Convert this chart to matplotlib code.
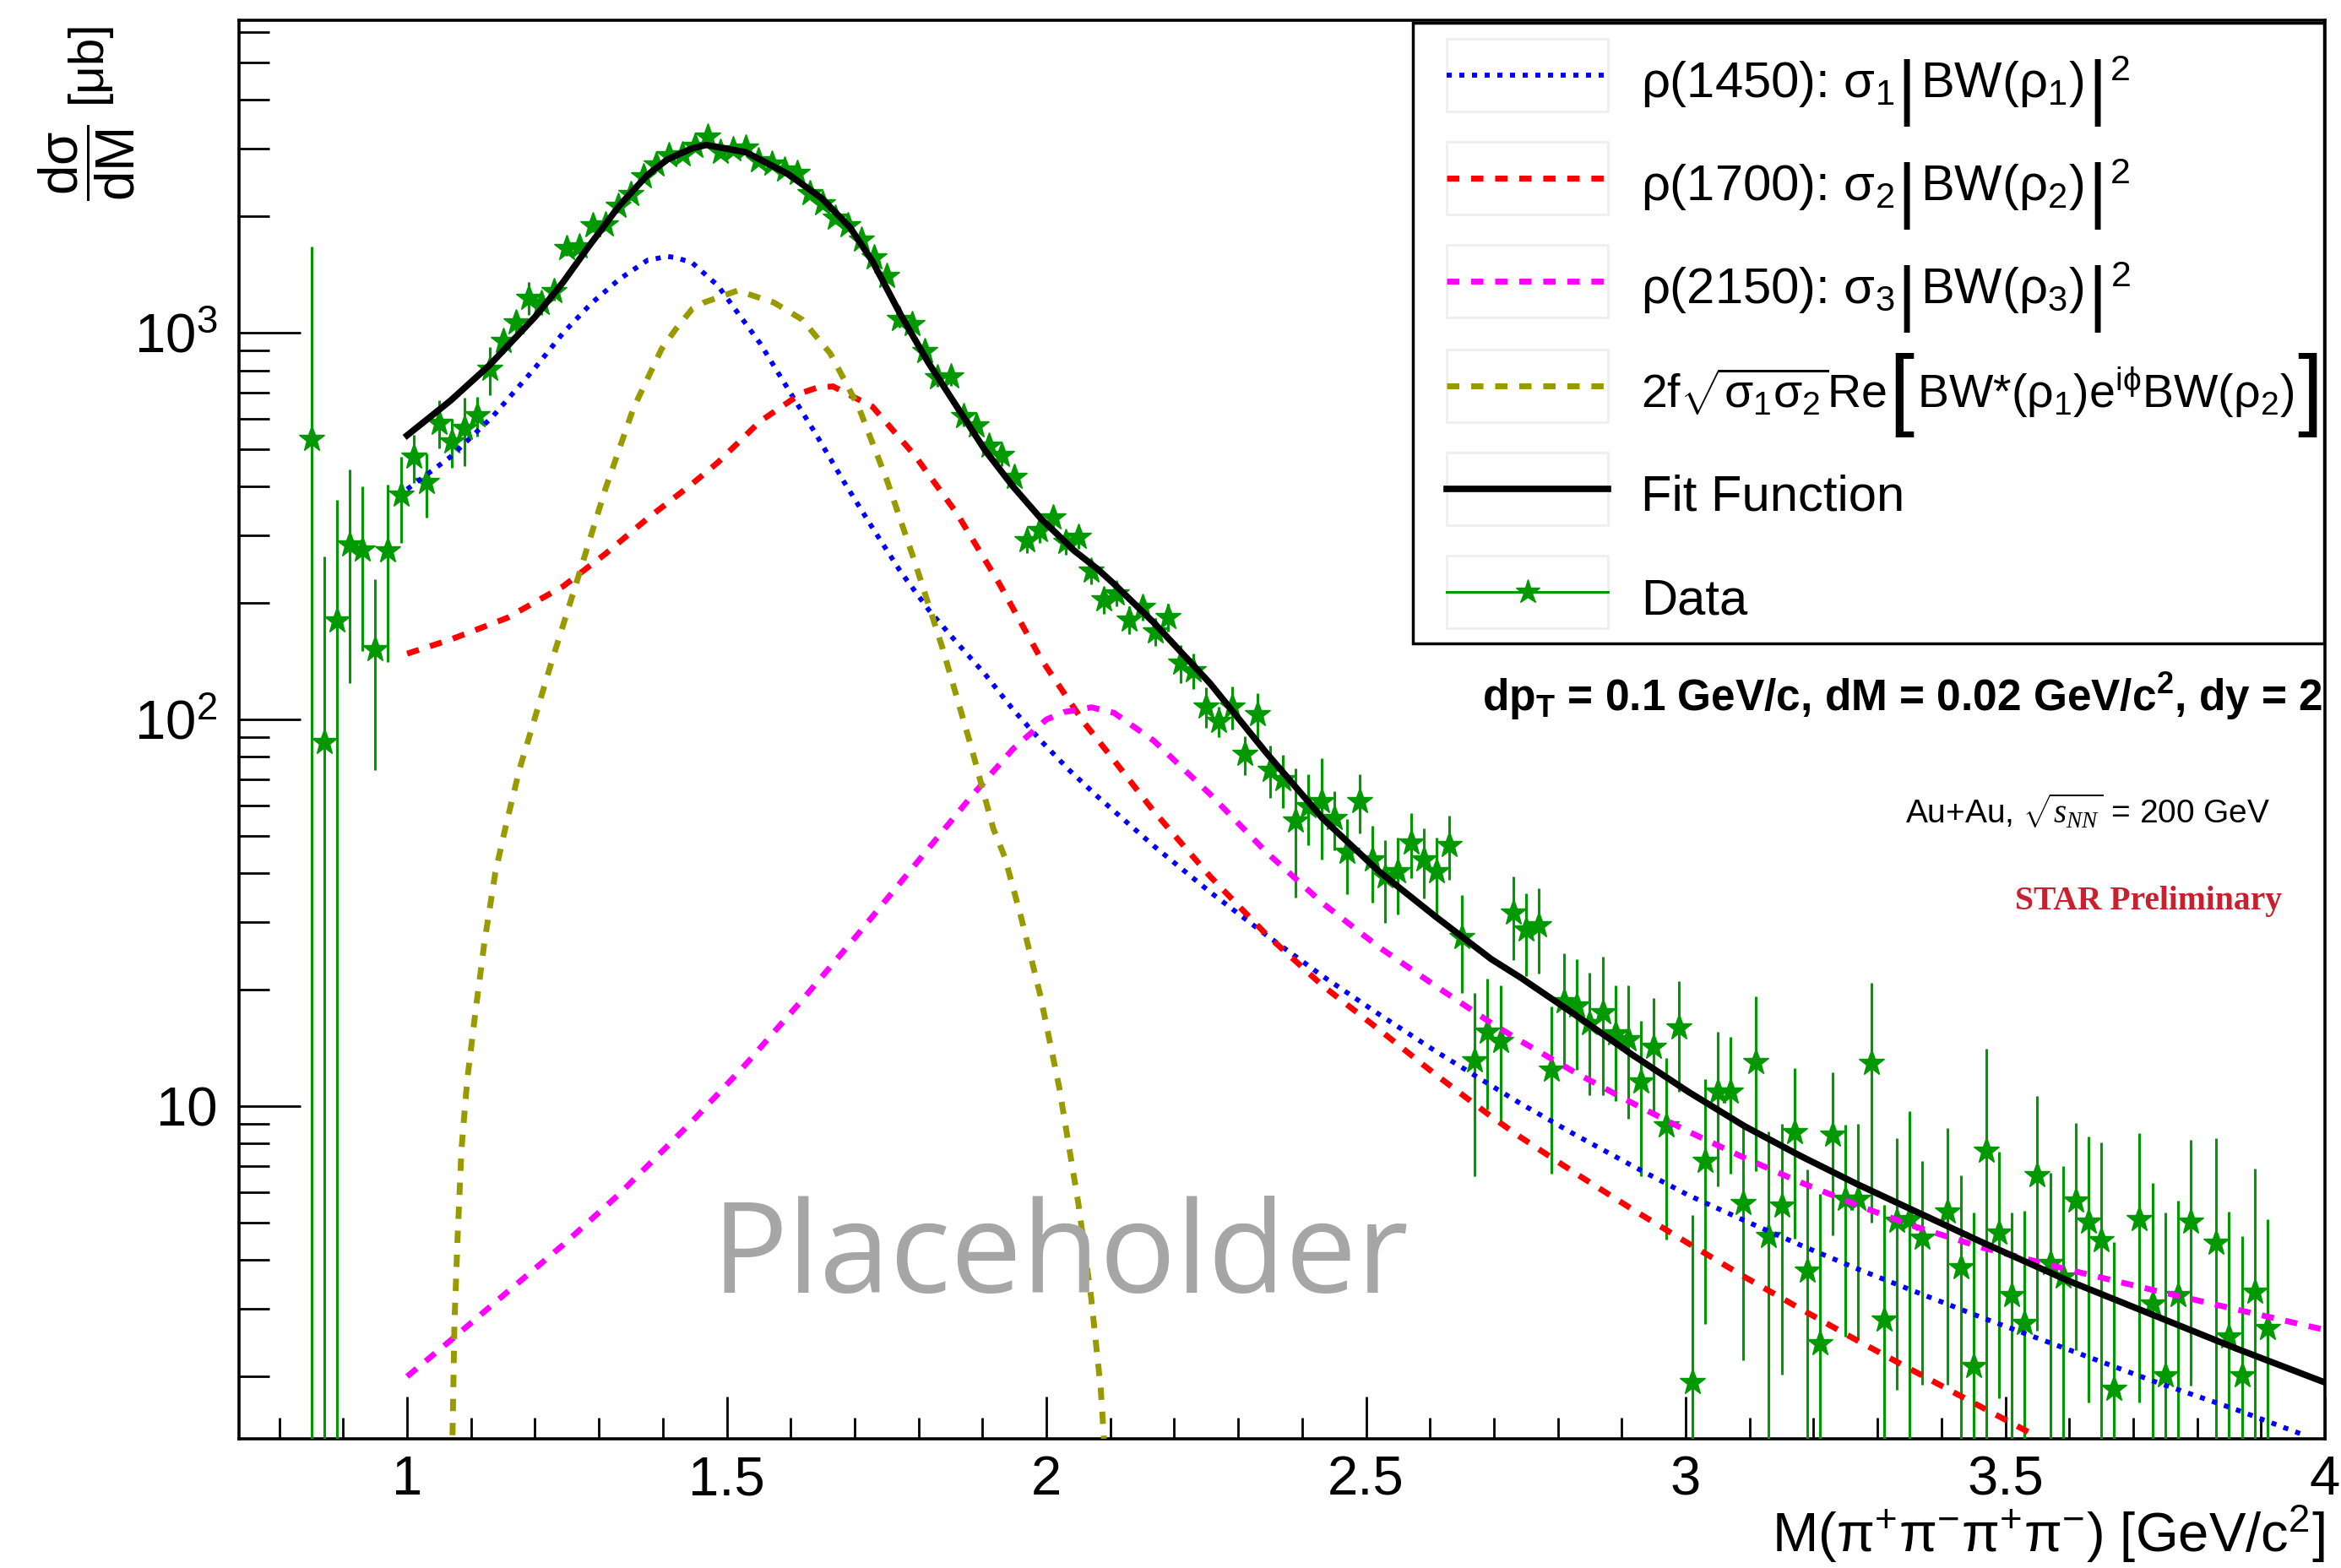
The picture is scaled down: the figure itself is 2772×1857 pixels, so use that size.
import numpy as np
import matplotlib
matplotlib.use("Agg")
import matplotlib.pyplot as plt
from matplotlib.lines import Line2D
from matplotlib.patches import Rectangle
from matplotlib.ticker import MultipleLocator, LogLocator, FuncFormatter, NullFormatter

W, H = 2772, 1857

plt.rcParams['font.family'] = ['Liberation Sans', 'DejaVu Sans']
plt.rcParams['mathtext.fontset'] = 'custom'
plt.rcParams['mathtext.rm'] = 'Liberation Sans'
plt.rcParams['mathtext.it'] = 'Liberation Serif:italic'
plt.rcParams['mathtext.bf'] = 'Liberation Sans:bold'
plt.rcParams['mathtext.sf'] = 'Liberation Sans'
plt.rcParams['mathtext.default'] = 'regular'
plt.rcParams['lines.scale_dashes'] = False

# --- data points (bin centres, dsigma/dM, stat. error) ---
mass = [0.85, 0.87, 0.89, 0.91, 0.93, 0.95, 0.97, 0.99, 1.01, 1.03,
        1.05, 1.07, 1.09, 1.11, 1.13, 1.15, 1.17, 1.19, 1.21, 1.23,
        1.25, 1.27, 1.29, 1.31, 1.33, 1.35, 1.37, 1.39, 1.41, 1.43,
        1.45, 1.47, 1.49, 1.51, 1.53, 1.55, 1.57, 1.59, 1.61, 1.63,
        1.65, 1.67, 1.69, 1.71, 1.73, 1.75, 1.77, 1.79, 1.81, 1.83,
        1.85, 1.87, 1.89, 1.91, 1.93, 1.95, 1.97, 1.99, 2.01, 2.03,
        2.05, 2.07, 2.09, 2.11, 2.13, 2.15, 2.17, 2.19, 2.21, 2.23,
        2.25, 2.27, 2.29, 2.31, 2.33, 2.35, 2.37, 2.39, 2.41, 2.43,
        2.45, 2.47, 2.49, 2.51, 2.53, 2.55, 2.57, 2.59, 2.61, 2.63,
        2.65, 2.67, 2.69, 2.71, 2.73, 2.75, 2.77, 2.79, 2.81, 2.83,
        2.85, 2.87, 2.89, 2.91, 2.93, 2.95, 2.97, 2.99, 3.01, 3.03,
        3.05, 3.07, 3.09, 3.11, 3.13, 3.15, 3.17, 3.19, 3.21, 3.23,
        3.25, 3.27, 3.29, 3.31, 3.33, 3.35, 3.37, 3.41, 3.43, 3.45,
        3.47, 3.49, 3.51, 3.53, 3.55, 3.57, 3.59, 3.61, 3.63, 3.65,
        3.67, 3.71, 3.73, 3.75, 3.77, 3.79, 3.83, 3.85, 3.87, 3.89,
        3.91]
dsigma = [530, 87.3, 180, 284, 275, 152, 273, 382, 477, 410,
          585, 523, 566, 611, 805, 953, 1065, 1230, 1191, 1282,
          1656, 1667, 1896, 1909, 2122, 2287, 2532, 2716, 2877, 2885,
          3038, 3220, 2928, 2973, 3015, 2787, 2740, 2647, 2586, 2292,
          2161, 1983, 1899, 1742, 1566, 1403, 1082, 1052, 897, 765,
          770, 608, 577, 511, 482, 423, 291, 308, 333, 287,
          296, 242, 204, 212, 181, 195, 169, 184, 140, 134,
          108, 98.9, 108, 81.3, 103, 74.1, 69.9, 54.7, 59.7, 61.4,
          55.5, 45.4, 61.4, 43.4, 39.3, 40.4, 48.1, 43.4, 40.4, 47.4,
          27.4, 13.1, 15.6, 14.7, 31.6, 28.6, 29.3, 12.4, 18.7, 18.2,
          16.4, 17.5, 15.4, 14.9, 11.6, 14.2, 8.92, 16.0, 1.93, 7.23,
          10.9, 10.9, 5.60, 13.0, 4.61, 5.52, 8.55, 3.76, 2.43, 8.43,
          5.74, 5.74, 12.9, 2.80, 5.05, 5.10, 4.56, 5.34, 3.83, 2.13,
          7.67, 4.70, 3.24, 2.75, 6.63, 3.92, 3.62, 5.69, 5.03, 4.49,
          1.86, 5.11, 3.09, 2.01, 3.24, 5.03, 4.42, 2.53, 2.01, 3.31,
          2.67]
dsigma_err = [1140, 177, 190, 160, 125, 78, 132, 96, 68, 77,
              83, 75, 113, 72, 115, 70, 65, 120, 80, 70,
              75, 70, 75, 70, 75, 75, 80, 80, 80, 80,
              80, 80, 80, 80, 80, 75, 75, 75, 75, 70,
              70, 65, 65, 60, 55, 55, 50, 50, 45, 40,
              40, 35, 35, 30, 30, 28, 22, 22, 22, 20,
              20, 18, 16, 16, 15, 15, 14, 15, 16, 14,
              13, 9, 13.6, 9.4, 14, 11.5, 11, 20, 12.3, 18,
              9.6, 10, 10.6, 9.8, 9.5, 9, 9.3, 9, 9, 9,
              7.8, 6.5, 5.8, 5.8, 7.7, 6.9, 7.3, 5.7, 6.1, 5.8,
              5.7, 6.8, 5.1, 5.6, 5.0, 4.8, 4.4, 5.1, 3.3, 4.5,
              4.7, 4.2, 3.4, 6.2, 4.0, 3.5, 4.0, 3.1, 3.5, 3.8,
              3.2, 3.25, 7.9, 2.75, 3.2, 4.6, 2.66, 3.44, 2.8, 3.19,
              6.4, 2.94, 2.08, 2.6, 4.0, 2.82, 3.38, 3.35, 3.32, 3.55,
              2.6, 3.4, 3.24, 3.3, 2.45, 3.14, 3.84, 2.8, 2.6, 3.6,
              2.44]

# --- fit function and its components ---
fit_m = [1.000, 1.068, 1.129, 1.200, 1.244, 1.283, 1.332, 1.376, 1.407, 1.446,
         1.468, 1.530, 1.596, 1.649, 1.693, 1.728, 1.772, 1.816, 1.860, 1.904,
         1.948, 1.992, 2.045, 2.080, 2.106, 2.168, 2.256, 2.344, 2.432, 2.520,
         2.608, 2.696, 2.740, 2.828, 2.916, 3.004, 3.092, 3.180, 3.268, 3.356,
         3.466, 3.598, 3.730, 3.862, 4.000]
fit_v = [543, 668, 825, 1099, 1352, 1663, 2133, 2560, 2806, 3001,
         3060, 2930, 2573, 2224, 1871, 1530, 1113, 834, 644, 497,
         400, 330, 272, 245, 224, 178, 124, 82, 55.5, 40.5,
         31.0, 24.0, 21.6, 17.2, 13.6, 10.9, 8.88, 7.43, 6.29, 5.38,
         4.43, 3.54, 2.89, 2.36, 1.93]

rho1450_m = [1.000, 1.068, 1.134, 1.200, 1.244, 1.288, 1.332, 1.376, 1.407, 1.420,
             1.446, 1.486, 1.552, 1.596, 1.640, 1.684, 1.728, 1.772, 1.816, 1.860,
             1.904, 1.948, 1.992, 2.036, 2.080, 2.168, 2.256, 2.344, 2.432,
             2.520, 2.608, 2.696, 2.740, 2.828, 2.916, 3.004, 3.092, 3.180, 3.268,
             3.356, 3.466, 3.598, 3.730, 3.862, 3.963]
rho1450_v = [394, 478, 608, 811, 999, 1191, 1376, 1541, 1575, 1566,
             1517, 1325, 940, 715, 545, 410, 313, 241, 192, 158,
             131, 106, 87.9, 73.9, 63.2, 47.1, 35.8, 27.7, 21.7,
             17.3, 13.9, 11.3, 10.2, 8.42, 7.02, 5.89, 5.06, 4.37, 3.80,
             3.33, 2.83, 2.35, 1.95, 1.64, 1.42]

rho1700_m = [1.000, 1.068, 1.156, 1.244, 1.310, 1.376, 1.446, 1.486, 1.552, 1.618,
             1.640, 1.666, 1.728, 1.794, 1.860, 1.926, 1.992, 2.058, 2.106, 2.168,
             2.256, 2.344, 2.432, 2.520, 2.608, 2.696, 2.740, 2.828, 2.916, 3.004,
             3.092, 3.180, 3.268, 3.356, 3.422, 3.549]
rho1700_v = [148, 161, 183, 221, 268, 331, 407, 462, 590, 700,
             720, 727, 644, 482, 341, 225, 143, 98.6, 78.3, 57.9,
             39.3, 27.8, 20.5, 15.8, 12.1, 9.4, 8.35, 6.7, 5.42, 4.42,
             3.62, 2.99, 2.48, 2.07, 1.81, 1.40]

rho2150_m = [1.000, 1.068, 1.156, 1.244, 1.332, 1.446, 1.531, 1.620, 1.700, 1.807,
             1.882, 1.948, 2.000, 2.027, 2.071, 2.106, 2.168, 2.256, 2.344, 2.432,
             2.520, 2.608, 2.696, 2.740, 2.828, 2.916, 3.004, 3.092, 3.180, 3.268,
             3.356, 3.466, 3.598, 3.730, 3.862, 4.000]
rho2150_v = [2.0, 2.48, 3.30, 4.38, 5.93, 9.14, 12.9, 19.0, 27.2, 44.6,
             63.1, 84, 100, 104.5, 107.5, 104, 88.1, 64.1, 45.4, 33.5,
             25.8, 20.5, 16.4, 14.8, 12.2, 10.2, 8.6, 7.35, 6.35, 5.55,
             4.9, 4.3, 3.78, 3.35, 2.98, 2.64]

interf_m = [1.071, 1.074, 1.079, 1.085, 1.094, 1.107, 1.121, 1.138, 1.156, 1.176,
            1.191, 1.226, 1.266, 1.310, 1.354, 1.398, 1.420, 1.446, 1.464, 1.517,
            1.574, 1.618, 1.662, 1.706, 1.750, 1.794, 1.838, 1.882, 1.917, 1.935,
            1.960, 1.990, 2.020, 2.050, 2.070, 2.085, 2.090]
interf_v = [1.41, 2.75, 4.60, 7.73, 11.7, 17.6, 26.6, 40.2, 54.5, 74.6,
            90.2, 141, 229, 394, 638, 908, 1021, 1153, 1197, 1286,
            1197, 1082, 884, 644, 418, 256, 152, 85.4, 52.2, 44,
            31, 19.5, 11.2, 5.6, 3.2, 1.86, 1.38]

GREEN = '#009900'
BLUE = '#0000ff'
RED = '#ff0000'
MAGENTA = '#ff00ff'
OLIVE = '#999900'

DOT = dict(lw=4.2, dashes=(4.3, 6.5))
DASH = dict(lw=5.0, dashes=(10.5, 10))

# legend labels split into pieces so the |..| and [..] can be drawn tall, as ROOT does
BAR = ('|', 1.42, 17, 5)
BRL = ('[', 1.95, 13, 4)
BRR = (']', 1.95, 13, 0)
legend_labels = [
    [(r'$\rho$(1450): $\sigma_{1}$', 1, 0, 3), BAR, (r'BW($\rho_{1}$)', 1, 0, 5), BAR,
     ('2', 0.72, -20, 0)],
    [(r'$\rho$(1700): $\sigma_{2}$', 1, 0, 3), BAR, (r'BW($\rho_{2}$)', 1, 0, 5), BAR,
     ('2', 0.72, -20, 0)],
    [(r'$\rho$(2150): $\sigma_{3}$', 1, 0, 3), BAR, (r'BW($\rho_{3}$)', 1, 0, 5), BAR,
     ('2', 0.72, -20, 0)],
    [(r'2f$\sqrt{\sigma_{1}\sigma_{2}}$Re', 1, 0, 2), BRL,
     (r'BW*($\rho_{1}$)e$^{i\phi}$BW($\rho_{2}$)', 1, 0, 3), BRR],
    [('Fit Function', 1, 0, 0)],
    [('Data', 1, 0, 0)],
]


def fx(X):
    return X / W


def fy(Y):
    return 1 - Y / H


def draw_pieces(fig, renderer, x0, base, pieces, size):
    x = x0
    for s, scale, dy, gap in pieces:
        t = fig.text(fx(x), fy(base + dy), s, fontsize=size * scale,
                     ha='left', va='baseline', zorder=12)
        x += t.get_window_extent(renderer).width + gap


def main() -> None:
    fig = plt.figure(figsize=(W / 100, H / 100), dpi=100)
    renderer = fig.canvas.get_renderer()
    ax = fig.add_axes([fx(283), fy(1704), (2753 - 283) / W, (1704 - 24) / H])
    ax.set_yscale('log')
    ax.set_xlim(0.737, 4.0)
    ax.set_ylim(1.38, 6430)

    m = np.array(mass)
    y = np.array(dsigma)
    e = np.array(dsigma_err)
    low = np.where(y - e > 0, y - e, 0.5)
    ax.errorbar(m, y, yerr=[y - low, e], fmt='*', ms=23, color=GREEN, mec=GREEN,
                ecolor=GREEN, elinewidth=2.2, capsize=0, zorder=3)

    styles = [
        (rho1450_m, rho1450_v, BLUE, DOT),
        (rho1700_m, rho1700_v, RED, DASH),
        (rho2150_m, rho2150_v, MAGENTA, DASH),
        (interf_m, interf_v, OLIVE, DASH),
    ]
    for xs, vs, col, st in styles:
        ax.plot(xs, vs, color=col, zorder=4, **st)
    ax.plot(fit_m, fit_v, color='black', lw=5.5, zorder=5)

    # axes look (ROOT style)
    for sp in ax.spines.values():
        sp.set_linewidth(2.6)
    ax.xaxis.set_major_locator(MultipleLocator(0.5))
    ax.xaxis.set_minor_locator(MultipleLocator(0.1))
    ax.xaxis.set_major_formatter(FuncFormatter(lambda v, p: f'{v:g}'))
    ax.yaxis.set_major_locator(LogLocator(base=10, numticks=10))
    ax.yaxis.set_minor_locator(LogLocator(base=10, subs=np.arange(2, 10), numticks=20))
    ax.yaxis.set_minor_formatter(NullFormatter())
    ax.yaxis.set_major_formatter(FuncFormatter(
        lambda v, p: '10' if abs(v - 10) < 1e-6 else r'$10^{%d}$' % round(np.log10(v))))
    ax.tick_params(axis='x', which='major', length=36, width=2, direction='in',
                   pad=13.7, labelsize=47, top=False)
    ax.tick_params(axis='x', which='minor', length=18, width=2, direction='in', top=False)
    ax.tick_params(axis='y', which='major', length=52.6, width=2, direction='in',
                   pad=18.4, labelsize=47, right=False)
    ax.tick_params(axis='y', which='minor', length=26, width=2, direction='in', right=False)

    # axis titles
    fig.text(fx(2753), fy(1838), r'M($\pi^{+}\pi^{-}\pi^{+}\pi^{-}$) [GeV/c$^{2}$]',
             ha='right', va='baseline', fontsize=47)
    fig.text(fx(103), fy(193), r'$\dfrac{d\sigma}{dM}$', rotation=90,
             ha='center', va='center', fontsize=46)
    fig.text(fx(104), fy(73), '[μb]', rotation=90, ha='center', va='center', fontsize=42)

    # legend, drawn by hand to follow the ROOT TLegend layout
    fig.add_artist(Rectangle((fx(1673), fy(762)), fx(2752) - fx(1673), fy(27) - fy(762),
                             transform=fig.transFigure, facecolor='white',
                             edgecolor='black', lw=2.5, zorder=10))
    rows = [88.6, 211, 333, 457, 579, 701]
    samples = [
        dict(color=BLUE, **DOT),
        dict(color=RED, **DASH),
        dict(color=MAGENTA, **DASH),
        dict(color=OLIVE, **DASH),
        dict(color='black', lw=5.5),
        dict(color=GREEN, lw=2.2),
    ]
    sizes = [43, 43, 43, 40, 43, 43]
    for r, pieces, st, size in zip(rows, legend_labels, samples, sizes):
        fig.add_artist(Rectangle((fx(1713), fy(r + 43)), fx(1904) - fx(1713), 86 / H,
                                 transform=fig.transFigure, fill=False,
                                 edgecolor='#efefef', lw=2, zorder=11))
        fig.add_artist(Line2D([fx(1713), fx(1904)], [fy(r), fy(r)],
                              transform=fig.transFigure, zorder=12, **st))
        draw_pieces(fig, renderer, 1943, r + 26, pieces, size)
    fig.add_artist(Line2D([fx(1809)], [fy(rows[-1])], transform=fig.transFigure,
                          marker='*', ms=21, color=GREEN, ls='none', zorder=13))

    # annotations
    fig.text(fx(2750), fy(842), 'dp$_{T}$ = 0.1 GeV/c, dM = 0.02 GeV/c$^{2}$, dy = 2',
             ha='right', va='baseline', fontsize=37, fontweight='bold')
    fig.text(fx(2688), fy(975), r'Au+Au, $\sqrt{\mathit{s}_{\mathit{NN}}}$ = 200 GeV',
             ha='right', va='baseline', fontsize=28)
    fig.text(fx(2702), fy(1077), 'STAR Preliminary', family=['Liberation Serif'],
             fontweight='bold', color='#c8202e', fontsize=28.5, ha='right', va='baseline')
    fig.text(fx(1255), fy(1531), 'Placeholder', family=['Open Sans'], color='#a6a6a6',
             fontsize=108, ha='center', va='baseline', zorder=20)

    fig.savefig('out.png', dpi=100)
    plt.close(fig)


if __name__ == '__main__':
    main()
